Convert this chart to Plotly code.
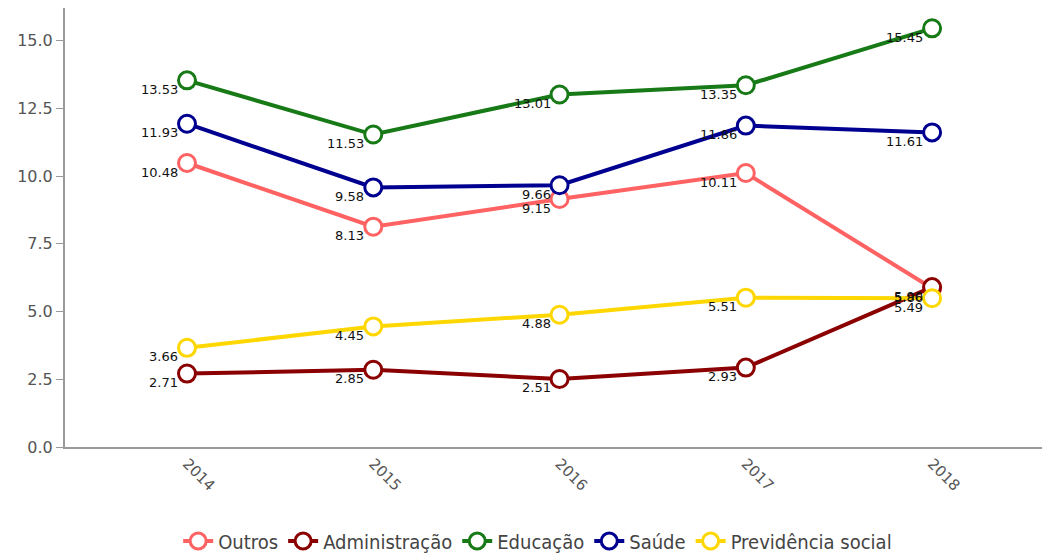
import plotly.graph_objects as go

years = ["2014", "2015", "2016", "2017", "2018"]
outros = [10.48, 8.13, 9.15, 10.11, 5.86]
administracao = [2.71, 2.85, 2.51, 2.93, 5.90]
educacao = [13.53, 11.53, 13.01, 13.35, 15.45]
saude = [11.93, 9.58, 9.66, 11.86, 11.61]
previdencia = [3.66, 4.45, 4.88, 5.51, 5.49]

series = [
    ("Outros", outros, "#ff6262"),
    ("Administração", administracao, "#8b0000"),
    ("Educação", educacao, "#177a17"),
    ("Saúde", saude, "#000090"),
    ("Previdência social", previdencia, "#ffd700"),
]

xs = list(range(len(years)))
fig = go.Figure()
annotations = []
for name, vals, color in series:
    fig.add_trace(go.Scatter(
        x=xs, y=vals, name=name, mode="lines+markers",
        line=dict(color=color, width=4),
        marker=dict(symbol="circle", size=17, color="white",
                    line=dict(color=color, width=3)),
        cliponaxis=False,
    ))
    # value labels sit just below-left of each point
    for xi, v in zip(xs, vals):
        annotations.append(dict(
            x=xi, y=v, xref="x", yref="y", text=f"{v:.2f}",
            showarrow=False, xanchor="right", yanchor="middle",
            xshift=-7, yshift=-9,
            font=dict(family="DejaVu Sans", size=13, color="#111111"),
        ))

fig.update_layout(
    width=1042, height=556,
    margin=dict(l=65, r=0, t=8, b=109, autoexpand=False),
    paper_bgcolor="white", plot_bgcolor="white",
    font=dict(family="DejaVu Sans", color="#555555"),
    showlegend=True,
    annotations=annotations,
    legend=dict(orientation="h", xref="container", yref="container",
                x=0.516, xanchor="center", y=0.027, yanchor="middle",
                font=dict(family="DejaVu Sans Condensed", size=20, color="#444444"),
                itemwidth=30, tracegroupgap=0),
)
fig.update_xaxes(
    range=[-0.655, 4.59], tickmode="array", tickvals=xs, ticktext=years,
    tickangle=45, showgrid=False, zeroline=False,
    showline=True, linecolor="#999999", linewidth=2,
    ticks="", tickfont=dict(size=15, color="#555555"),
)
fig.update_yaxes(
    range=[0, 16.2], tickmode="array", tickvals=[0, 2.5, 5, 7.5, 10, 12.5, 15],
    tickformat=".1f", showgrid=False, zeroline=False,
    showline=True, linecolor="#999999", linewidth=2,
    ticks="outside", ticklen=7, tickcolor="#999999",
    tickfont=dict(size=16, color="#555555"),
)

fig.write_html("out.html")
